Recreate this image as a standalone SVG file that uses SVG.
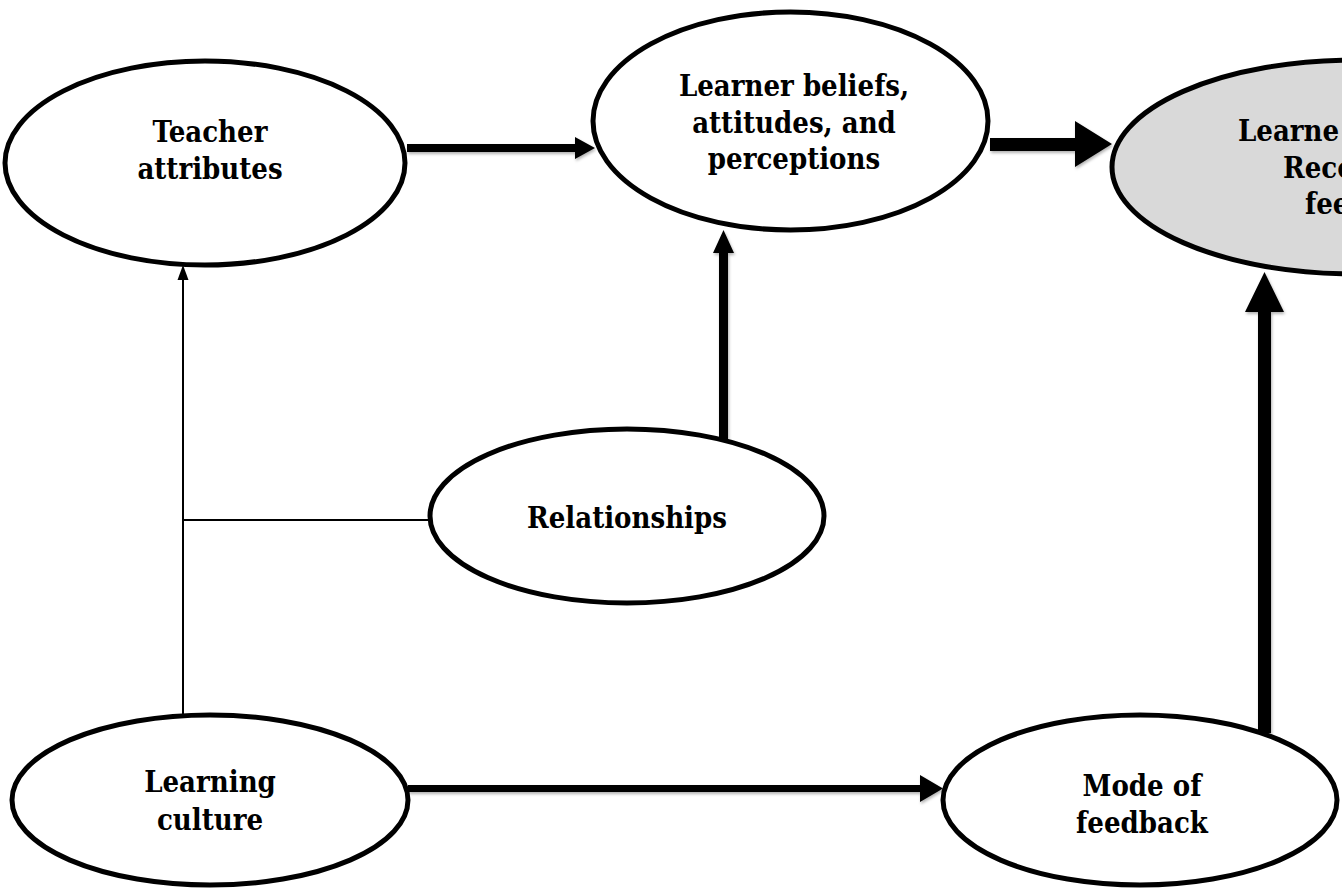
<svg xmlns="http://www.w3.org/2000/svg" width="1342" height="889" viewBox="0 0 1342 889">
  <style>
    .node { fill: #ffffff; stroke: #000000; stroke-width: 5; }
    .grey { fill: #d9d9d9; }
    .lbl { font-family: "DejaVu Serif Condensed", "DejaVu Serif", "Liberation Serif", serif; font-stretch: condensed; font-weight: bold; font-size: 29px; fill: #000000; text-anchor: middle; }
    .lbl-start { text-anchor: start; }
    .thin { fill: none; stroke: #000000; stroke-width: 2; }
    .arrow { fill: #000000; stroke: none; }
  </style>
  <defs>
    <filter id="shadow" x="-20%" y="-20%" width="140%" height="140%">
      <feDropShadow dx="1" dy="2" stdDeviation="1.5" flood-color="#000000" flood-opacity="0.3"/>
    </filter>
  </defs>
  <rect x="0" y="0" width="1342" height="889" fill="#ffffff"/>

  <g id="connectors">
    <line class="thin" x1="183" y1="718" x2="183" y2="278"/>
    <path class="arrow" d="M183,265 L188.5,280 L177.5,280 Z"/>
    <line class="thin" x1="183" y1="520" x2="431" y2="520"/>
    <g filter="url(#shadow)">
      <path class="arrow" d="M407,144 L575,144 L575,137 L595,148 L575,159 L575,152 L407,152 Z"/>
      <path class="arrow" d="M719,441 L719,253 L713,253 L723.5,230 L734,253 L728,253 L728,441 Z"/>
      <path class="arrow" d="M990,138 L1075,138 L1075,121 L1112,144 L1075,167 L1075,151 L990,151 Z"/>
      <path class="arrow" d="M408,785 L920,785 L920,775 L943,788.5 L920,802 L920,792 L408,792 Z"/>
      <path class="arrow" d="M1258,733 L1258,312 L1245,312 L1264.5,272 L1284,312 L1271,312 L1271,733 Z"/>
    </g>
  </g>

  <g id="node-teacher">
    <ellipse class="node" cx="205" cy="163" rx="200" ry="102"/>
    <text class="lbl" x="210" y="142">Teacher</text>
    <text class="lbl" x="210" y="179">attributes</text>
  </g>

  <g id="node-beliefs">
    <ellipse class="node" cx="790.5" cy="121" rx="197.5" ry="109"/>
    <text class="lbl" x="794" y="96">Learner beliefs,</text>
    <text class="lbl" x="794" y="133">attitudes, and</text>
    <text class="lbl" x="794" y="169">perceptions</text>
  </g>

  <g id="node-uptake">
    <ellipse class="node grey" cx="1355" cy="167" rx="243" ry="107"/>
    <text class="lbl lbl-start" x="1238" y="141">Learne</text>
    <text class="lbl lbl-start" x="1283" y="178">Reco</text>
    <text class="lbl lbl-start" x="1305" y="214">fee</text>
  </g>

  <g id="node-relationships">
    <ellipse class="node" cx="627" cy="516" rx="197" ry="87"/>
    <text class="lbl" x="627" y="528">Relationships</text>
  </g>

  <g id="node-culture">
    <ellipse class="node" cx="210" cy="800" rx="198" ry="85"/>
    <text class="lbl" x="210" y="792">Learning</text>
    <text class="lbl" x="210" y="830">culture</text>
  </g>

  <g id="node-mode">
    <ellipse class="node" cx="1140" cy="800" rx="197" ry="85"/>
    <text class="lbl" x="1142" y="796">Mode of</text>
    <text class="lbl" x="1142" y="833">feedback</text>
  </g>
</svg>
